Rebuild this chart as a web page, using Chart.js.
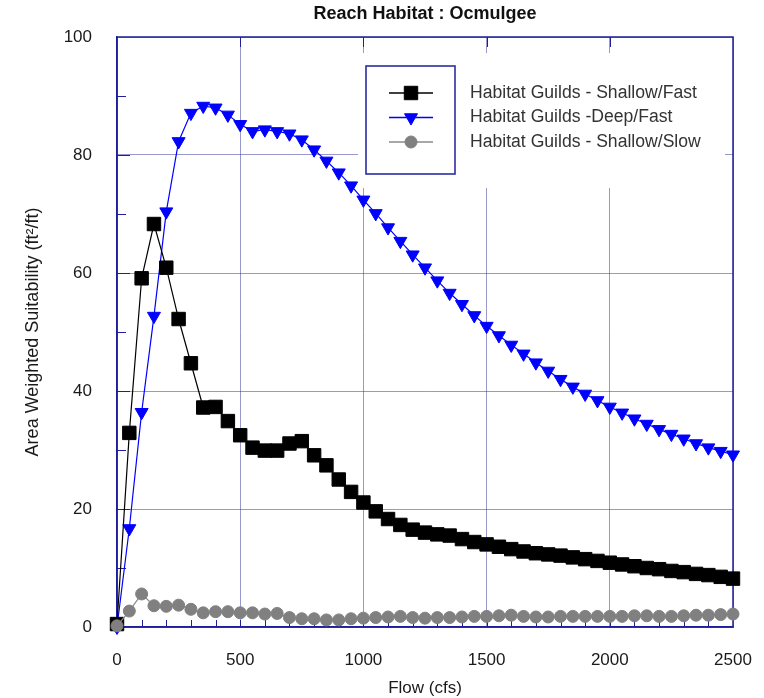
<!DOCTYPE html>
<html>
<head>
<meta charset="utf-8">
<title>Reach Habitat : Ocmulgee</title>
<script src="https://cdn.jsdelivr.net/npm/chart.js@4.4.1/dist/chart.umd.min.js"></script>
<style>
  body { margin: 0; background: #fff; }
</style>
</head>
<body>
<canvas id="habitat_graph" width="764" height="698"></canvas>

<script>
  // flow in cfs
  const flow = [
    0, 50, 100, 150, 200, 250, 300, 350, 400, 450,
    500, 550, 600, 650, 700, 750, 800, 850, 900, 950,
    1000, 1050, 1100, 1150, 1200, 1250, 1300, 1350, 1400, 1450,
    1500, 1550, 1600, 1650, 1700, 1750, 1800, 1850, 1900, 1950,
    2000, 2050, 2100, 2150, 2200, 2250, 2300, 2350, 2400, 2450,
    2500
  ];

  const shallow_fast = [
    0.5, 32.9, 59.1, 68.3, 60.9, 52.2, 44.7, 37.2, 37.3, 34.9,
    32.5, 30.4, 29.9, 29.9, 31.1, 31.5, 29.1, 27.4, 25.0, 22.9,
    21.1, 19.6, 18.3, 17.3, 16.5, 16.0, 15.7, 15.5, 14.9, 14.4,
    14.0, 13.6, 13.2, 12.8, 12.5, 12.3, 12.1, 11.8, 11.5, 11.2,
    10.9, 10.6, 10.3, 10.0, 9.8, 9.5, 9.3, 9.0, 8.8, 8.5,
    8.2
  ];

  const deep_fast = [
    0.0, 16.7, 36.4, 52.7, 70.4, 82.3, 87.1, 88.3, 88.0, 86.8,
    85.2, 84.0, 84.3, 84.0, 83.6, 82.6, 80.9, 79.0, 77.0, 74.8,
    72.4, 70.1, 67.7, 65.4, 63.1, 60.9, 58.7, 56.6, 54.7, 52.8,
    51.0, 49.4, 47.8, 46.3, 44.8, 43.4, 42.0, 40.7, 39.5, 38.4,
    37.3, 36.3, 35.3, 34.4, 33.5, 32.7, 31.9, 31.1, 30.4, 29.8,
    29.2
  ];

  const shallow_slow = [
    0.2, 2.7, 5.6, 3.6, 3.5, 3.7, 3.0, 2.4, 2.6, 2.6,
    2.4, 2.4, 2.2, 2.3, 1.6, 1.4, 1.4, 1.2, 1.2, 1.4,
    1.5, 1.6, 1.7, 1.8, 1.6, 1.5, 1.6, 1.6, 1.7, 1.8,
    1.8, 1.9, 2.0, 1.8, 1.7, 1.7, 1.8, 1.8, 1.8, 1.8,
    1.8, 1.8, 1.9, 1.9, 1.8, 1.8, 1.9, 2.0, 2.0, 2.1,
    2.2
  ];

  const series_labels = [
    'Habitat Guilds - Shallow/Fast',
    'Habitat Guilds -Deep/Fast',
    'Habitat Guilds - Shallow/Slow'
  ];

  const FONT = '"Liberation Sans", Arial, sans-serif';
  const FRAME = '#1f1f9a';
  const GRID = 'rgba(50, 50, 160, 0.5)';
  const TEXT = '#1a1a1a';

  const toPoints = (values) => values.map((v, i) => ({x: flow[i], y: v}));

  // no extra room for overflowing tick labels, the frame stays where it is
  const noOverflow = (scale) => {
    scale.paddingLeft = 0;
    scale.paddingRight = 0;
    scale.paddingTop = 0;
    scale.paddingBottom = 0;
  };

  // frame, inner tick marks and the white patch behind the legend
  const framePlugin = {
    id: 'frame',
    beforeDatasetsDraw(chart) {
      const {ctx, chartArea: a, scales: {x, y}} = chart;
      ctx.save();

      ctx.fillStyle = '#fff';
      ctx.fillRect(358, 53, 367, 135);

      ctx.strokeStyle = FRAME;
      ctx.lineWidth = 1;
      ctx.beginPath();
      for (let v = 100; v < 2500; v += 100) {
        const px = Math.round(x.getPixelForValue(v)) + 0.5;
        ctx.moveTo(px, a.bottom);
        ctx.lineTo(px, a.bottom - 7);
        if (v % 500 === 0) {
          ctx.moveTo(px, a.top);
          ctx.lineTo(px, a.top + 10);
        }
      }
      for (let v = 10; v < 100; v += 10) {
        const py = Math.round(y.getPixelForValue(v)) + 0.5;
        ctx.moveTo(a.left, py);
        ctx.lineTo(a.left + (v % 20 === 0 ? 13 : 9), py);
      }
      ctx.stroke();

      ctx.lineWidth = 1.5;
      ctx.strokeRect(a.left, a.top, a.right - a.left, a.bottom - a.top);
      ctx.restore();
    },
    afterDraw(chart) {
      const ctx = chart.ctx;
      ctx.save();
      ctx.strokeStyle = FRAME;
      ctx.lineWidth = 1.5;
      ctx.strokeRect(366, 66, 89, 108);

      chart.data.datasets.forEach((ds, i) => {
        const yy = 93 + i * 24.5;
        ctx.strokeStyle = ds.borderColor;
        ctx.lineWidth = 1.5;
        ctx.beginPath();
        ctx.moveTo(389, yy);
        ctx.lineTo(433, yy);
        ctx.stroke();

        ctx.fillStyle = ds.pointBackgroundColor;
        ctx.strokeStyle = ds.pointBorderColor;
        ctx.lineWidth = 1;
        Chart.helpers.drawPoint(ctx, {
          pointStyle: ds.pointStyle,
          rotation: ds.pointRotation || 0,
          radius: ds.pointRadius,
          borderWidth: 1
        }, 411, yy);

        ctx.fillStyle = '#333';
        ctx.font = '17.6px ' + FONT;
        ctx.textBaseline = 'middle';
        ctx.textAlign = 'left';
        ctx.fillText(ds.label, 470, yy);
      });
      ctx.restore();
    }
  };

  new Chart(document.getElementById('habitat_graph'), {
    type: 'line',
    data: {
      datasets: [{
        label: series_labels[0],
        data: toPoints(shallow_fast),
        borderColor: '#000',
        borderWidth: 1.2,
        pointStyle: 'rect',
        pointRadius: 9.5,
        pointBackgroundColor: '#000',
        pointBorderColor: '#000',
        pointBorderWidth: 1,
        clip: false,
        order: 1
      },
      {
        label: series_labels[1],
        data: toPoints(deep_fast),
        borderColor: '#0000ff',
        borderWidth: 1.2,
        pointStyle: 'triangle',
        pointRotation: 180,
        pointRadius: 7.5,
        pointBackgroundColor: '#0000ff',
        pointBorderColor: '#0000ff',
        pointBorderWidth: 1,
        clip: false,
        order: 2
      },
      {
        label: series_labels[2],
        data: toPoints(shallow_slow),
        borderColor: '#8a8a8a',
        borderWidth: 1.2,
        pointStyle: 'circle',
        pointRadius: 6,
        pointBackgroundColor: '#808080',
        pointBorderColor: '#808080',
        pointBorderWidth: 1,
        clip: false,
        order: 0
      }
      ]
    },
    options: {
      responsive: false,
      animation: false,
      layout: {padding: {left: 0, right: 31, top: 0, bottom: 0}},
      plugins: {
        legend: {display: false},
        tooltip: {enabled: false},
        title: {
          display: true,
          text: 'Reach Habitat : Ocmulgee',
          fullSize: false,
          color: '#111',
          font: {family: FONT, size: 18, weight: 'bold'},
          padding: {top: 3, bottom: 12.4}
        }
      },
      scales: {
        x: {
          type: 'linear',
          min: 0,
          max: 2500,
          afterFit: (scale) => { scale.height = 71; noOverflow(scale); },
          ticks: {stepSize: 500, padding: 23, color: TEXT, font: {family: FONT, size: 17}, callback: (v) => String(v)},
          grid: {color: GRID, lineWidth: 1, drawTicks: false},
          border: {color: FRAME, width: 1.5},
          title: {
            display: true,
            text: 'Flow (cfs)',
            color: TEXT,
            font: {family: FONT, size: 17},
            padding: {top: 0, bottom: -1}
          }
        },
        y: {
          min: 0,
          max: 100,
          afterFit: (scale) => { scale.width = 117; noOverflow(scale); },
          ticks: {stepSize: 20, padding: 25, color: TEXT, font: {family: FONT, size: 17}, callback: (v) => String(v)},
          grid: {color: GRID, lineWidth: 1, drawTicks: false},
          border: {color: FRAME, width: 1.5},
          title: {
            display: true,
            text: 'Area Weighted Suitability (ft²/ft)',
            color: TEXT,
            font: {family: FONT, size: 18},
            padding: {top: 22, bottom: 0}
          }
        }
      }
    },
    plugins: [framePlugin]
  });
</script>
</body>
</html>
